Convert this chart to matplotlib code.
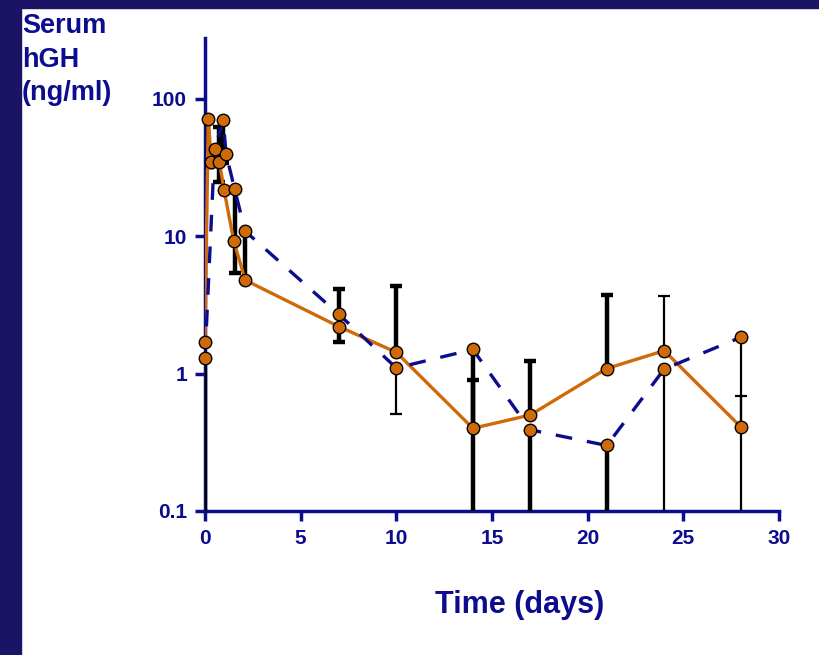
import numpy as np
import matplotlib.pyplot as plt
from matplotlib.ticker import FixedLocator, FixedFormatter, NullLocator

# group 1 (orange, solid line)
t_orange = [0, 0.17, 0.33, 0.75, 1.0, 1.5, 2.1, 7, 10, 14, 17, 21, 24, 28]
y_orange = [1.7, 72, 35, 35, 21.6, 9.3, 4.8, 2.2, 1.43, 0.4, 0.5, 1.09, 1.47, 0.41]
up_orange = [np.nan, np.nan, np.nan, 62, np.nan, np.nan, 10.8, np.nan, 4.32, 0.9, 1.23, 3.76, 3.7, 0.69]
lo_orange = [np.nan, 32, np.nan, 25, np.nan, np.nan, np.nan, 1.69, np.nan, np.nan, np.nan, np.nan, np.nan, np.nan]

# group 2 (blue, dashed line)
t_blue = [0, 0.5, 0.95, 1.1, 1.55, 2.1, 7, 10, 14, 17, 21, 24, 28]
y_blue = [1.3, 43, 70, 40, 22, 10.9, 2.7, 1.1, 1.5, 0.39, 0.3, 1.08, 1.84]
up_blue = [np.nan] * 6 + [4.14, np.nan, np.nan, np.nan, np.nan, np.nan, np.nan]
lo_blue = [0.01, np.nan, 34, np.nan, 5.4, np.nan, np.nan, 0.51, 0.01, 0.01, 0.01, 0.01, 0.01]

thin_bars = [("blue", 10), ("orange", 24), ("blue", 24), ("orange", 28), ("blue", 28)]

x_ticks = [0, 5, 10, 15, 20, 25, 30]
y_ticks = [0.1, 1, 10, 100]
y_labels = ["0.1", "1", "10", "100"]

navy = "#0c0c8e"
orange = "#d06a08"
plt.rcParams["font.family"] = ["Liberation Sans", "DejaVu Sans"]

fig = plt.figure(figsize=(8.2, 6.55), dpi=100)
fig.patch.set_facecolor("white")
# dark frame strips of the slide
fig.add_artist(plt.Rectangle((0, 0), 21 / 820, 1, transform=fig.transFigure, color="#1b1464", zorder=0))
fig.add_artist(plt.Rectangle((0, 1 - 8 / 655), 1, 8 / 655, transform=fig.transFigure, color="#1b1464", zorder=0))

ax = fig.add_axes([205 / 820, 1 - 511 / 655, 574 / 820, 473 / 655])
ax.set_yscale("log")
ax.set_xlim(0, 30)
ax.set_ylim(0.1, 278)


def draw_bars(name, t, y, up, lo):
    for ti, yi, u, l in zip(t, y, up, lo):
        lw = 1.6 if (name, ti) in thin_bars else 3.2
        for end in (u, l):
            if np.isnan(end):
                continue
            ax.vlines(ti, min(yi, end), max(yi, end), color="black", lw=lw, zorder=3, clip_on=True)
            if end > 0.1:
                ax.plot([ti], [end], marker="_", ms=9, mew=lw, color="black", zorder=3)


draw_bars("orange", t_orange, y_orange, up_orange, lo_orange)
draw_bars("blue", t_blue, y_blue, up_blue, lo_blue)

ax.plot(t_orange, y_orange, color=orange, lw=2.4, zorder=4)
ax.plot(t_blue, y_blue, color=navy, lw=2.4, ls=(0, (5, 4.5)), zorder=4)
ax.plot(t_orange, y_orange, "o", ms=9, mfc=orange, mec="black", mew=1.0, zorder=5, clip_on=False)
ax.plot(t_blue, y_blue, "o", ms=9, mfc=orange, mec="black", mew=1.0, zorder=5, clip_on=False)

for side in ("top", "right"):
    ax.spines[side].set_visible(False)
for side in ("left", "bottom"):
    ax.spines[side].set_color(navy)
    ax.spines[side].set_linewidth(2.5)
    ax.spines[side].set_zorder(2)

ax.xaxis.set_major_locator(FixedLocator(x_ticks))
ax.yaxis.set_major_locator(FixedLocator(y_ticks))
ax.yaxis.set_major_formatter(FixedFormatter(y_labels))
ax.yaxis.set_minor_locator(NullLocator())
ax.tick_params(axis="both", colors=navy, width=2.5, length=7, direction="out", labelsize=15, pad=6)
for lab in ax.get_xticklabels() + ax.get_yticklabels():
    lab.set_fontweight("bold")

ax.set_xlabel("Time (days)", fontsize=22, fontweight="bold", color=navy)
ax.xaxis.set_label_coords((520 - 205) / 574, -(605 - 511) / 473)
ax.xaxis.label.set_va("center")
fig.text(22 / 820, 1 - 13 / 655, "Serum\nhGH\n(ng/ml)", fontsize=19.5, fontweight="bold",
         color=navy, va="top", ha="left", linespacing=1.38)

fig.savefig("out.png", dpi=100)
